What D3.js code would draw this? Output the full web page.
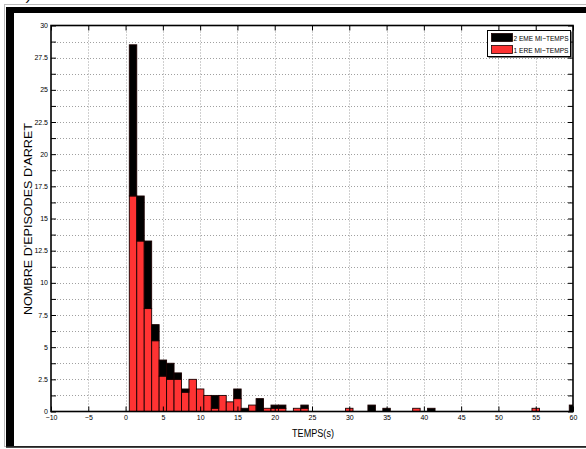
<!DOCTYPE html>
<html>
<head>
<meta charset="utf-8">
<script src="https://cdn.jsdelivr.net/npm/d3@7"></script>
<style>
  html, body { margin: 0; padding: 0; background: #fff; }
  svg { display: block; }
  text { font-family: "Liberation Sans", Arial, Helvetica, sans-serif; fill: #000; }
</style>
</head>
<body>
<svg id="chart" width="586" height="449"></svg>
<script>
// Histogram bins (1-second classes, centred on integers)
const bins = d3.range(1, 61);
// 1st half: number of stoppage episodes per bin
const premiereMiTemps = [
  16.75, 13.25, 8, 5.5, 2.75, 2.5, 2.5, 1.5, 2.5, 1.75,
  1.25, 0.25, 1.25, 0.75, 1, 0, 0.5, 0, 0.25, 0.25,
  0.25, 0, 0.25, 0.25, 0, 0, 0, 0, 0, 0.25,
  0, 0, 0, 0, 0, 0, 0, 0, 0.25, 0,
  0, 0, 0, 0, 0, 0, 0, 0, 0, 0,
  0, 0, 0, 0, 0.25, 0, 0, 0, 0, 0
];
// 2nd half: stacked on top of the 1st half
const deuxiemeMiTemps = [
  11.75, 3.5, 5.25, 1.25, 1.25, 1.25, 0.5, 0.25, 0, 0,
  0, 1, 0, 0, 0.75, 0.25, 0, 1, 0, 0.25,
  0.25, 0, 0, 0.25, 0, 0, 0, 0, 0, 0,
  0, 0, 0.5, 0, 0.25, 0, 0, 0, 0, 0,
  0.25, 0, 0, 0, 0, 0, 0, 0, 0, 0,
  0, 0, 0, 0, 0, 0, 0, 0, 0, 0.5
];
const xTicks = d3.range(-10, 61, 5);
const yTicks = d3.range(0, 30.001, 1.25);
const yLabelled = d3.range(0, 30.001, 2.5);
const seriesNames = ["2 EME MI\u2212TEMPS", "1 ERE MI\u2212TEMPS"];
const seriesColors = { eme: "#000000", ere: "#ff3333" };

const svg = d3.select("#chart");

// ---- figure frame ----
svg.append("rect").attr("x", 4.5).attr("y", 4.5).attr("width", 590).attr("height", 442)
  .attr("fill", "none").attr("stroke", "#bbb").attr("stroke-width", 1);
svg.append("rect").attr("x", 6).attr("y", 7).attr("width", 580).attr("height", 6).attr("fill", "#000");
svg.append("rect").attr("x", 6).attr("y", 7).attr("width", 8).attr("height", 440).attr("fill", "#000");
svg.append("rect").attr("x", 6).attr("y", 446).attr("width", 580).attr("height", 1.8).attr("fill", "#222");
svg.append("text").attr("x", 27).attr("y", 0).attr("font-size", 14).attr("font-style", "italic").text(")");

// ---- axes area ----
const plotL = 51, plotR = 573, plotT = 25.5, plotB = 411.5;
const x = d3.scaleLinear().domain([-10, 60]).range([plotL, plotR]);
const y = d3.scaleLinear().domain([0, 30]).range([plotB, plotT]);

svg.append("defs").append("clipPath").attr("id", "plotClip")
  .append("rect").attr("x", plotL).attr("y", plotT).attr("width", plotR - plotL).attr("height", plotB - plotT);

// dotted grid
const grid = svg.append("g").attr("stroke", "#a0a0a0").attr("stroke-width", 1).attr("stroke-dasharray", "1,2");
grid.selectAll("line.gy").data(yTicks.filter(v => v > 0 && v < 30)).join("line")
  .attr("x1", plotL).attr("x2", plotR).attr("y1", d => Math.round(y(d)) + 0.5).attr("y2", d => Math.round(y(d)) + 0.5);
grid.selectAll("line.gx").data(xTicks.filter(v => v > -10 && v < 60)).join("line")
  .attr("y1", plotT).attr("y2", plotB).attr("x1", d => Math.round(x(d)) + 0.5).attr("x2", d => Math.round(x(d)) + 0.5);

// stacked bars
const rows = bins.map((b, i) => ({ bin: b, ere: premiereMiTemps[i], eme: deuxiemeMiTemps[i] }));
const stacked = d3.stack().keys(["ere", "eme"])(rows);
const bars = svg.append("g").attr("clip-path", "url(#plotClip)");
bars.selectAll("g").data(stacked).join("g")
  .attr("fill", d => seriesColors[d.key])
  .attr("stroke", "#1a0000").attr("stroke-width", 0.9)
  .selectAll("rect").data(d => d.filter(s => s[1] - s[0] > 0)).join("rect")
  .attr("x", d => x(d.data.bin - 0.5))
  .attr("width", d => x(d.data.bin + 0.5) - x(d.data.bin - 0.5))
  .attr("y", d => y(d[1]))
  .attr("height", d => y(d[0]) - y(d[1]));

// axes with inward ticks
const fmt = v => (v < 0 ? "\u2212" : "") + Math.abs(v);
const yAxis = d3.axisLeft(y).tickValues(yTicks).tickSizeInner(-5).tickSizeOuter(0).tickPadding(3)
  .tickFormat(v => yLabelled.some(l => Math.abs(l - v) < 1e-6) ? fmt(v) : "");
const xAxis = d3.axisBottom(x).tickValues(xTicks).tickSizeInner(-5).tickSizeOuter(0).tickPadding(4).tickFormat(fmt);
const yAxisR = d3.axisRight(y).tickValues(yTicks).tickSizeInner(-5).tickSizeOuter(0).tickFormat("");
const xAxisT = d3.axisTop(x).tickValues(xTicks).tickSizeInner(-5).tickSizeOuter(0).tickFormat("");

function styleAxis(g) {
  g.select(".domain").remove();
  g.selectAll(".tick line").attr("stroke", "#000").attr("stroke-width", 1);
  g.selectAll(".tick text").attr("font-size", 7).attr("fill", "#000")
    .attr("font-family", "Liberation Sans, Arial, sans-serif");
}
svg.append("g").attr("transform", `translate(${plotL},0)`).call(yAxis).call(styleAxis)
  .selectAll(".tick text").attr("dy", "0.3em");
svg.append("g").attr("transform", `translate(0,${plotB})`).call(xAxis).call(styleAxis);
svg.append("g").attr("transform", `translate(${plotR},0)`).call(yAxisR).call(styleAxis);
svg.append("g").attr("transform", `translate(0,${plotT})`).call(xAxisT).call(styleAxis);

// axes box
svg.append("rect").attr("x", plotL).attr("y", plotT).attr("width", plotR - plotL).attr("height", plotB - plotT)
  .attr("fill", "none").attr("stroke", "#000").attr("stroke-width", 1.6);

// axis labels
svg.append("text").attr("x", 313).attr("y", 437).attr("text-anchor", "middle")
  .attr("font-size", 11).attr("textLength", 42).attr("lengthAdjust", "spacingAndGlyphs").text("TEMPS(s)");
svg.append("text").attr("transform", "translate(32,219) rotate(-90)").attr("text-anchor", "middle")
  .attr("font-size", 11).attr("textLength", 192).attr("lengthAdjust", "spacingAndGlyphs")
  .text("NOMBRE D'EPISODES D'ARRET");

// legend
const lg = svg.append("g").attr("transform", "translate(487.5,30.5)");
lg.append("rect").attr("x", 1).attr("y", 1).attr("width", 83).attr("height", 26).attr("fill", "#000");
lg.append("rect").attr("width", 83).attr("height", 26).attr("fill", "#fff").attr("stroke", "#000").attr("stroke-width", 1);
const entries = [{ name: seriesNames[0], key: "eme" }, { name: seriesNames[1], key: "ere" }];
const le = lg.selectAll("g.entry").data(entries).join("g").attr("transform", (d, i) => `translate(0,${3 + i * 12})`);
le.append("rect").attr("x", 4).attr("y", 0).attr("width", 21).attr("height", 8)
  .attr("fill", d => seriesColors[d.key]).attr("stroke", "#1a0000").attr("stroke-width", 0.8);
le.append("text").attr("x", 26).attr("y", 7.2).attr("font-size", 7)
  .attr("textLength", 55).attr("lengthAdjust", "spacingAndGlyphs").text(d => d.name);
</script>
</body>
</html>
